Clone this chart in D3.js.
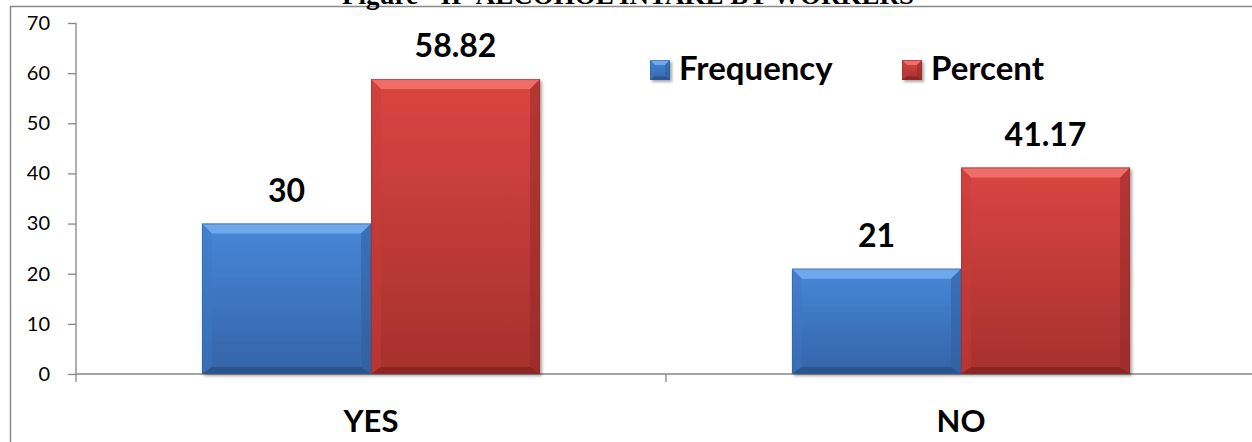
<!DOCTYPE html>
<html>
<head>
<meta charset="utf-8">
<script src="https://cdn.jsdelivr.net/npm/d3@7"></script>
<style>
  html, body { margin: 0; padding: 0; background: #fff; }
  svg { display: block; }
</style>
</head>
<body>
<svg id="chart" width="1252" height="442"></svg>
<script>
// Alcohol intake by workers: frequency and percent
const categories = ["YES", "NO"];
const seriesNames = ["Frequency", "Percent"];
const frequency = [30, 21];
const percent = [58.82, 41.17];
const yTicks = [0, 10, 20, 30, 40, 50, 60, 70];
const titleText = "Figure - II- ALCOHOL INTAKE BY WORKERS";

const W = 1252, H = 442;
const svg = d3.select("#chart");
const FONT = "Lato, 'Open Sans', sans-serif";

const palette = {
  Frequency: { top: "#4787d8", bottom: "#3464a8", bevelTop: "#6fa9ec", bevelBottom: "#2c5590", side: "#3d78c4", sideDark: "#2f5f9f" },
  Percent:   { top: "#da4642", bottom: "#a6302e", bevelTop: "#f06e6a", bevelBottom: "#8c2624", side: "#c83c39", sideDark: "#96292a" }
};

const defs = svg.append("defs");
seriesNames.forEach(s => {
  const g = defs.append("linearGradient").attr("id", "grad-" + s)
    .attr("x1", 0).attr("y1", 0).attr("x2", 0).attr("y2", 1);
  g.append("stop").attr("offset", "0%").attr("stop-color", palette[s].top);
  g.append("stop").attr("offset", "100%").attr("stop-color", palette[s].bottom);
});
const shadow = defs.append("filter").attr("id", "shadow")
  .attr("x", "-10%").attr("y", "-10%").attr("width", "130%").attr("height", "130%");
shadow.append("feDropShadow").attr("dx", 2).attr("dy", 2)
  .attr("stdDeviation", 1.6).attr("flood-color", "#000").attr("flood-opacity", 0.35);

// Scales
const y = d3.scaleLinear().domain([0, 70]).range([374, 23]);
const x0 = d3.scaleBand().domain(categories).range([76, 1256]).paddingInner(0).paddingOuter(0);
const x1 = d3.scaleBand().domain(seriesNames).range([0, x0.bandwidth()])
  .paddingInner(0).paddingOuter(0.745);

// Frame lines
svg.append("line").attr("x1", 10).attr("x2", W).attr("y1", 6.5).attr("y2", 6.5)
  .attr("stroke", "#8a8a8a").attr("stroke-width", 1.5);
svg.append("line").attr("x1", 10.5).attr("x2", 10.5).attr("y1", 6).attr("y2", H)
  .attr("stroke", "#8a8a8a").attr("stroke-width", 1.5);

// Title (sits mostly above the page edge)
svg.append("text").attr("x", 628).attr("y", 4)
  .attr("text-anchor", "middle")
  .attr("font-family", "'Liberation Serif', 'Times New Roman', serif")
  .attr("font-weight", "bold").attr("font-size", 27)
  .attr("fill", "#000").text(titleText);

// Y axis
const yAxis = svg.append("g").attr("transform", "translate(76,0)")
  .call(d3.axisLeft(y).tickValues(yTicks).tickSize(8).tickPadding(18));
yAxis.select(".domain").attr("stroke", "#868686").attr("stroke-width", 1.3)
  .attr("d", `M0,${y(70)}V${y(0)}`);
yAxis.selectAll(".tick line").attr("stroke", "#868686").attr("stroke-width", 1.3);
yAxis.selectAll(".tick text").attr("font-family", FONT).attr("font-size", 20)
  .attr("fill", "#000");

// X axis with boundary ticks
const xAxisG = svg.append("g").attr("transform", `translate(0,${y(0)})`);
xAxisG.append("line").attr("x1", 76).attr("x2", W).attr("y1", 0).attr("y2", 0)
  .attr("stroke", "#868686").attr("stroke-width", 1.3);
const boundaries = categories.map(c => x0(c)).concat([x0(categories[categories.length - 1]) + x0.bandwidth()]);
xAxisG.selectAll(".bt").data(boundaries).join("line")
  .attr("x1", d => d).attr("x2", d => d).attr("y1", 0).attr("y2", 8)
  .attr("stroke", "#868686").attr("stroke-width", 1.3);
xAxisG.selectAll(".cat").data(categories).join("text")
  .attr("x", d => x0(d) + x0.bandwidth() / 2).attr("y", 58)
  .attr("text-anchor", "middle").attr("font-family", FONT)
  .attr("font-weight", "bold").attr("font-size", 31).attr("fill", "#000")
  .text(d => d);

// Beveled bar drawing
function bevelBar(g, x, yTop, w, h, s, b) {
  const p = palette[s];
  const grp = g.append("g");
  grp.append("rect").attr("x", x).attr("y", yTop).attr("width", w).attr("height", h)
    .attr("fill", `url(#grad-${s})`).attr("filter", "url(#shadow)");
  const bb = Math.min(b, h / 2, w / 2);
  const bBot = Math.min(b * 0.7, h / 2);
  const pts = a => a.map(q => q.join(",")).join(" ");
  // top facet
  grp.append("polygon").attr("points", pts([[x, yTop], [x + w, yTop], [x + w - bb, yTop + bb], [x + bb, yTop + bb]]))
    .attr("fill", p.bevelTop);
  // left facet
  grp.append("polygon").attr("points", pts([[x, yTop], [x + bb, yTop + bb], [x + bb, yTop + h - bBot], [x, yTop + h]]))
    .attr("fill", p.side).attr("opacity", 0.45);
  // right facet
  grp.append("polygon").attr("points", pts([[x + w, yTop], [x + w - bb, yTop + bb], [x + w - bb, yTop + h - bBot], [x + w, yTop + h]]))
    .attr("fill", p.sideDark).attr("opacity", 0.55);
  // bottom facet
  grp.append("polygon").attr("points", pts([[x, yTop + h], [x + bb, yTop + h - bBot], [x + w - bb, yTop + h - bBot], [x + w, yTop + h]]))
    .attr("fill", p.bevelBottom);
  // thin edge
  grp.append("rect").attr("x", x + 0.5).attr("y", yTop + 0.5).attr("width", w - 1).attr("height", h - 1)
    .attr("fill", "none").attr("stroke", p.sideDark).attr("stroke-opacity", 0.5).attr("stroke-width", 1);
}

const values = { Frequency: frequency, Percent: percent };
const bars = svg.append("g");
categories.forEach((c, i) => {
  seriesNames.forEach(s => {
    const v = values[s][i];
    const bx = x0(c) + x1(s);
    bevelBar(bars, bx, y(v), x1.bandwidth(), y(0) - y(v), s, 10);
  });
});

// Value labels
const labels = svg.append("g");
categories.forEach((c, i) => {
  seriesNames.forEach(s => {
    const v = values[s][i];
    labels.append("text")
      .attr("x", x0(c) + x1(s) + x1.bandwidth() / 2)
      .attr("y", y(v) - 22)
      .attr("text-anchor", "middle").attr("font-family", FONT)
      .attr("font-weight", "bold").attr("font-size", 32).attr("fill", "#000")
      .text(v);
  });
});

// Legend
const legend = svg.append("g");
const legendItems = [
  { name: "Frequency", x: 650 },
  { name: "Percent", x: 902 }
];
legendItems.forEach(it => {
  const lg = legend.append("g");
  bevelBar(lg, it.x, 60, 20, 20, it.name, 5);
  lg.append("text").attr("x", it.x + 29).attr("y", 80)
    .attr("font-family", FONT).attr("font-weight", "bold").attr("font-size", 33)
    .attr("fill", "#000").text(it.name);
});
</script>
</body>
</html>
